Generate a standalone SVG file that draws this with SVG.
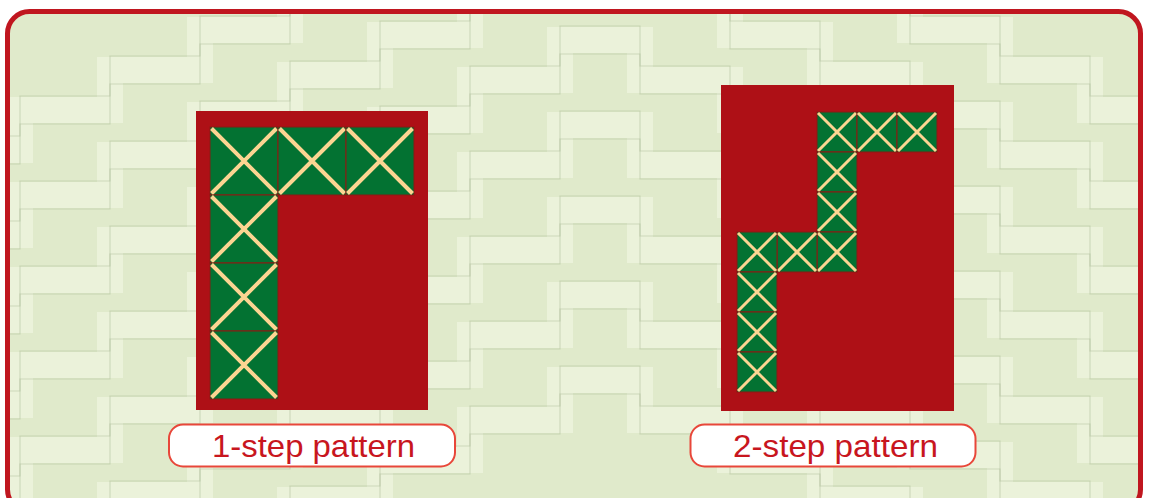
<svg xmlns="http://www.w3.org/2000/svg" width="1149" height="498" viewBox="0 0 1149 498">
<defs>
<style>
.tile{fill:#037232;stroke:#8a1a12;stroke-width:1}
.x{stroke:#FCD592;fill:none}
.lbl{fill:#fff;stroke:#E8473A;stroke-width:2}
.txt{font-family:"Liberation Sans",Arial,sans-serif;font-size:32px;fill:#C8161E;text-anchor:middle}
.band{fill:none;stroke:#F1F6E4;stroke-width:26;opacity:0.6}
.edge{fill:none;stroke:#A3B38E;stroke-width:1.2;opacity:0.4}
</style>
<clipPath id="inner"><rect x="7.5" y="11.5" width="1133" height="500" rx="22"/></clipPath>
<path id="zz" d="M-60,0 H20 V-40 H110 V-80 H200 V-120 H290 V-160 H380 V-200 H470 V-240 H560 V-280 H640 V-240 H730 V-200 H820 V-160 H910 V-120 H1000 V-80 H1090 V-40 H1200"/>
<g id="zzg"><use href="#zz" class="band"/><use href="#zz" class="edge" transform="translate(0,-14)"/><use href="#zz" class="edge" transform="translate(0,14)"/></g>
<g id="t40"><rect class="tile" width="40" height="40"/><path class="x" stroke-width="3" d="M1,1 L39,39 M39,1 L1,39"/></g>
<g id="t68"><rect class="tile" width="68" height="68"/><path class="x" stroke-width="4" d="M1.5,1.5 L66.5,66.5 M66.5,1.5 L1.5,66.5"/></g>
</defs>
<rect width="1149" height="498" fill="#fff"/>
<g id="background" clip-path="url(#inner)">
<rect x="0" y="0" width="1149" height="498" fill="#E0EACB"/>
<use href="#zzg" transform="translate(0,150)"/>
<use href="#zzg" transform="translate(0,235)"/>
<use href="#zzg" transform="translate(0,320)"/>
<use href="#zzg" transform="translate(0,405)"/>
<use href="#zzg" transform="translate(0,490)"/>
<use href="#zzg" transform="translate(0,575)"/>
<use href="#zzg" transform="translate(0,660)"/>
</g>
<rect id="frame" x="7.5" y="11.5" width="1133" height="500" rx="22" fill="none" stroke="#C0161F" stroke-width="5"/>
<g id="pattern1">
<rect x="196" y="111" width="232" height="299" fill="#AE1016"/>
<use href="#t68" x="210" y="127"/>
<use href="#t68" x="278" y="127"/>
<use href="#t68" x="346" y="127"/>
<use href="#t68" x="210" y="195"/>
<use href="#t68" x="210" y="263"/>
<use href="#t68" x="210" y="331"/>
</g>
<g id="pattern2">
<rect x="721" y="85" width="233" height="326" fill="#AE1016"/>
<use href="#t40" x="817" y="112"/>
<use href="#t40" x="857" y="112"/>
<use href="#t40" x="897" y="112"/>
<use href="#t40" x="817" y="152"/>
<use href="#t40" x="817" y="192"/>
<use href="#t40" x="817" y="232"/>
<use href="#t40" x="777" y="232"/>
<use href="#t40" x="737" y="232"/>
<use href="#t40" x="737" y="272"/>
<use href="#t40" x="737" y="312"/>
<use href="#t40" x="737" y="352"/>
</g>
<g id="label1">
<rect class="lbl" x="169" y="424.5" width="286" height="42" rx="14"/>
<text class="txt" x="313.5" y="456.5" textLength="203" lengthAdjust="spacingAndGlyphs">1-step pattern</text>
</g>
<g id="label2">
<rect class="lbl" x="690.5" y="424.5" width="285" height="42" rx="14"/>
<text class="txt" x="835.5" y="456.5" textLength="205" lengthAdjust="spacingAndGlyphs">2-step pattern</text>
</g>
</svg>
